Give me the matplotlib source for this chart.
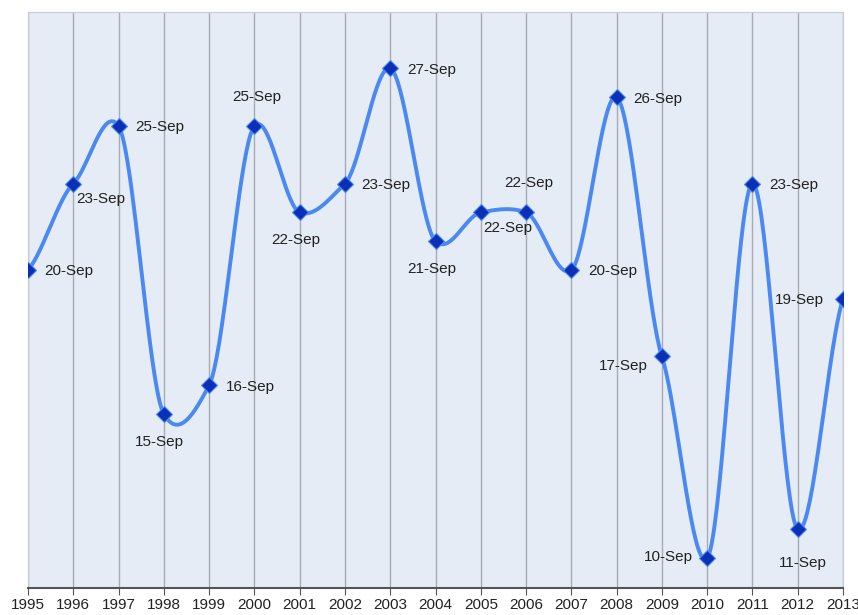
import numpy as np
import matplotlib as mpl
mpl.use("Agg")
import matplotlib.pyplot as plt

plt.rcParams['font.family'] = ['Liberation Sans', 'DejaVu Sans']

years = list(range(1995, 2014))
days = [20, 23, 25, 15, 16, 25, 22, 23, 27, 21, 22, 22, 20, 26, 17, 10, 23, 11, 19]
labels = ['%d-Sep' % d for d in days]
# where each label sits relative to its point
label_pos = ['right', 'belowright', 'right', 'below', 'right', 'above', 'below',
             'right', 'right', 'below', 'belowright', 'above', 'right', 'right',
             'left', 'left', 'right', 'below', 'left']

line_col = '#4a88f2'
marker_col = '#0b2fb5'
bg_col = '#e6ecf6'


def smooth_curve(x, y, k=0.6, n=40):
    # cardinal (hermite) curve through the points, only for drawing
    x = np.asarray(x, float)
    y = np.asarray(y, float)
    m = len(x)
    tan = np.zeros(m)
    tan[1:-1] = k * (y[2:] - y[:-2]) / (x[2:] - x[:-2])
    tan[0] = k * (y[1] - y[0]) / (x[1] - x[0])
    tan[-1] = k * (y[-1] - y[-2]) / (x[-1] - x[-2])
    xs, ys = [], []
    for i in range(m - 1):
        h = x[i + 1] - x[i]
        t = np.linspace(0, 1, n, endpoint=False)
        h00 = 2 * t ** 3 - 3 * t ** 2 + 1
        h10 = t ** 3 - 2 * t ** 2 + t
        h01 = -2 * t ** 3 + 3 * t ** 2
        h11 = t ** 3 - t ** 2
        xs.append(x[i] + t * h)
        ys.append(h00 * y[i] + h10 * h * tan[i] + h01 * y[i + 1] + h11 * h * tan[i + 1])
    xs.append([x[-1]])
    ys.append([y[-1]])
    return np.concatenate(xs), np.concatenate(ys)


fig = plt.figure(figsize=(8.58, 6.15), dpi=100)
ax = fig.add_axes([28 / 858, 27 / 615, 815 / 858, 576 / 615])
ax.set_facecolor(bg_col)

sx, sy = smooth_curve(years, days)
ax.plot(sx, sy, color=line_col, linewidth=2.8, zorder=3, solid_capstyle='round')
ax.plot(years, days, linestyle='none', marker='D', markersize=8,
        color=marker_col, markeredgecolor=line_col, markeredgewidth=0.8, zorder=4)

offsets = {
    'right': ((12, -1), 'left', 'center'),
    'belowright': ((2, -11), 'left', 'center'),
    'below': ((-3, -20), 'center', 'center'),
    'above': ((2, 21), 'center', 'center'),
    'left': ((-10, -7), 'right', 'center'),
}
for x, y, lab, pos in zip(years, days, labels, label_pos):
    off, ha, va = offsets[pos]
    if pos == 'left' and y == 10:
        off = (-10, 1)
    if pos == 'left' and y == 19:
        off = (-14, -1)
    if pos == 'below' and y == 11:
        off = (4, -24)
    ax.annotate(lab, (x, y), xytext=off, textcoords='offset points',
                ha=ha, va=va, fontsize=11, color='#222222', zorder=5)

ax.set_xlim(1995, 2013)
ax.set_ylim(8.96, 28.96)
ax.set_xticks(years)
ax.set_xticklabels([str(y) for y in years], fontsize=11, color='#222222')
ax.set_yticks([])
ax.grid(axis='x', color='#a8abb2', linewidth=1)
ax.set_axisbelow(True)
for s in ['top', 'right', 'left']:
    ax.spines[s].set_color('#c8cbd2')
ax.spines['bottom'].set_color('#555555')
ax.spines['bottom'].set_linewidth(1.5)
ax.tick_params(axis='x', length=5, color='#555555', pad=2)

fig.savefig('out.png', dpi=100)
